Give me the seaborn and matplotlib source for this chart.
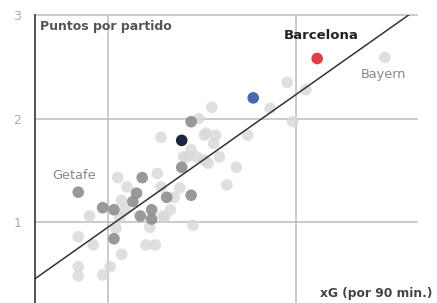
import matplotlib
matplotlib.use("Agg")
import matplotlib.pyplot as plt
import seaborn as sns
import pandas as pd
import numpy as np

# light grey teams
light_x = [0.90, 0.84, 0.92, 1.04, 1.07, 1.01, 0.97, 0.84, 0.84, 1.20, 1.25, 1.22, 1.29, 1.33,
           1.35, 1.38, 1.26, 1.05, 1.10, 1.07, 1.45, 1.28, 1.42, 1.47, 1.53, 1.48, 1.55, 1.28,
           1.51, 1.56, 1.95, 2.05, 1.86, 1.98, 1.74, 1.52, 1.57, 1.59, 1.68, 1.63, 1.44, 1.40,
           1.30, 1.09, 1.06, 1.51, 2.47]
light_y = [1.06, 0.86, 0.78, 0.94, 0.69, 0.57, 0.49, 0.57, 0.48, 0.78, 0.78, 0.95, 1.06, 1.12,
           1.24, 1.33, 1.47, 1.43, 1.34, 1.21, 0.97, 1.34, 1.63, 1.63, 1.57, 2.00, 2.11, 1.82,
           1.84, 1.76, 2.35, 2.28, 2.10, 1.97, 1.84, 1.86, 1.84, 1.63, 1.53, 1.36, 1.70, 1.63,
           1.05, 1.12, 1.04, 1.60, 2.59]
# medium grey teams
dark_x = [0.84, 1.18, 1.39, 1.44, 1.31, 0.97, 1.03, 1.13, 1.15, 1.17, 1.23, 1.23, 1.03, 1.44]
dark_y = [1.29, 1.43, 1.53, 1.26, 1.24, 1.14, 1.12, 1.20, 1.28, 1.06, 1.12, 1.03, 0.84, 1.97]
# highlighted
hl_x = [1.39, 1.77, 2.11]
hl_y = [1.79, 2.20, 2.58]
hl_colors = ["#1b2440", "#4a68ad", "#e03e48"]

all_x = light_x + dark_x + hl_x
all_y = light_y + dark_y + hl_y
df_all = pd.DataFrame({"xg": all_x, "pts": all_y})

fig = plt.figure(figsize=(4.37, 3.03), dpi=100)
ax = fig.add_axes([0.080, 0.0, 0.874, 0.9505])

ax.set_xlim(0.61, 2.64)
ax.set_ylim(0.22, 3.0)

for v in [1, 2]:
    ax.axvline(v, color="#c2c2c2", lw=1.2, zorder=0)
for v in [1, 2, 3]:
    ax.axhline(v, color="#c2c2c2", lw=1.2, zorder=0, clip_on=False)

sns.scatterplot(x=light_x, y=light_y, color="#d8d8d8", s=70, alpha=0.8, edgecolor="none", ax=ax, zorder=2)
sns.scatterplot(x=dark_x, y=dark_y, color="#8e8e8e", s=70, alpha=0.9, edgecolor="none", ax=ax, zorder=3)
for xx, yy, cc in zip(hl_x, hl_y, hl_colors):
    sns.scatterplot(x=[xx], y=[yy], color=cc, s=70, edgecolor="none", ax=ax, zorder=4)

sns.regplot(data=df_all, x="xg", y="pts", scatter=False, ci=None, truncate=False,
            line_kws={"color": "#333333", "lw": 1.1, "zorder": 5}, ax=ax)

for s in ["top", "right", "bottom"]:
    ax.spines[s].set_visible(False)
ax.spines["left"].set_color("#444444")
ax.spines["left"].set_linewidth(1.3)

ax.set_xticks([])
ax.set_yticks([1, 2, 3])
ax.set_yticklabels(["1", "2", "3"], color="#aaaaaa", fontsize=9)
ax.tick_params(axis="y", length=0, pad=10)
ax.set_xlabel("")
ax.set_ylabel("")

ax.text(0.013, 0.96, "Puntos por partido", transform=ax.transAxes, fontsize=9,
        fontweight="bold", color="#555555", va="center", ha="left")
ax.text(1.93, 2.80, "Barcelona", fontsize=9.5, fontweight="bold", color="#222222", va="center")
ax.text(2.34, 2.43, "Bayern", fontsize=9.3, color="#888888", va="center")
ax.text(0.70, 1.45, "Getafe", fontsize=9.3, color="#888888", va="center")
ax.text(2.72, 0.31, "xG (por 90 min.)", fontsize=8.8, fontweight="bold", color="#444444",
        va="center", ha="right", clip_on=False)

fig.savefig("out.png", dpi=100)
